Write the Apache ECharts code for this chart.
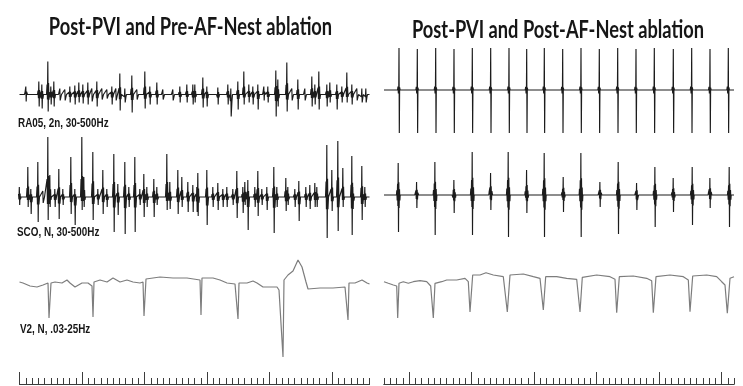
<!DOCTYPE html>
<html><head><meta charset="utf-8">
<script src="https://cdn.jsdelivr.net/npm/echarts@6/dist/echarts.min.js"></script>
<style>html,body{margin:0;padding:0;background:#fff}#c{width:743px;height:386px}</style>
</head><body><div id="c"></div>
<script>
// ---------- text ----------
const titleLeft = 'Post-PVI and Pre-AF-Nest ablation';
const titleRight = 'Post-PVI and Post-AF-Nest ablation';
const channelLabels = ['RA05, 2n, 30-500Hz', 'SCO, N, 30-500Hz', 'V2, N, .03-25Hz'];

// ---------- ruler (ms) ----------
const rulerMajorTicks = [0, 1000, 2000, 3000, 4000, 5000];

// ---------- RA05, pre-ablation (ms, deflection up / down) ----------
const ra05PreT = [0,104,312,360,456,504,552,648,728,808,888,952,1016,1096,1160,1240,1320,1400,1480,1544,1608,1688,1800,1880,2008,2088,2200,2296,2456,2568,2680,2776,2808,2936,3000,3176,3336,3384,3496,3592,3672,3736,3816,3912,3976,4104,4136,4280,4360,4456,4568,4680,4728,4792,4920,4968,5080,5160,5240,5320,5400,5480,5544];
const ra05PreUp = [2,8,13,10,33,8,13,6,5,8,9,12,10,12,6,13,6,5,8,6,21,6,19,5,23,8,12,5,5,8,10,10,10,17,8,7,10,6,13,23,10,8,10,8,8,24,15,32,6,15,6,18,10,23,10,12,10,8,22,10,6,6,6];
const ra05PreDn = [2,7,12,14,17,10,12,6,6,8,10,8,9,10,7,12,5,4,10,6,16,8,18,5,14,10,10,5,6,8,8,10,8,13,12,10,10,22,15,10,8,10,15,6,8,22,12,17,6,15,6,12,10,15,12,8,15,8,8,10,6,8,8];

// ---------- SCO, pre-ablation ----------
const scoPreT = [0,136,184,296,376,456,488,568,632,696,824,888,1000,1032,1176,1256,1336,1400,1512,1576,1688,1752,1848,1928,1992,2040,2152,2200,2360,2408,2536,2600,2696,2776,2840,2856,3000,3096,3176,3256,3320,3416,3480,3576,3608,3656,3768,3816,3880,3960,4072,4120,4264,4296,4408,4472,4584,4648,4728,4760,4920,5000,5096,5176,5320,5336,5480,5528];
const scoPreUp = [10,30,8,35,6,60,22,8,28,8,40,8,60,20,45,8,27,8,43,13,35,10,40,8,23,10,18,10,43,15,27,20,15,12,10,24,27,10,14,8,10,8,26,10,15,17,10,26,8,10,30,10,19,10,8,16,10,12,14,10,52,27,56,29,41,10,31,10];
const scoPreDn = [8,10,17,25,6,23,10,10,22,8,17,28,13,10,23,8,17,10,35,18,37,10,35,8,20,10,20,8,13,12,17,10,15,15,15,19,28,10,13,10,10,8,21,16,8,33,10,19,8,13,36,10,14,8,10,24,10,12,10,10,41,14,34,10,38,12,23,10];

// ---------- V2, pre-ablation (ms, amplitude) ----------
const v2PreT = [0,56,168,280,376,456,472,504,568,680,760,808,888,1000,1096,1160,1176,1192,1288,1400,1496,1608,1720,1816,1928,1976,1992,2024,2136,2248,2456,2680,2888,2904,2920,3096,3208,3320,3448,3480,3496,3512,3640,3736,3800,3896,4120,4152,4216,4232,4296,4376,4456,4520,4584,4616,4808,5016,5208,5240,5256,5272,5368,5480,5560,5600];
const v2PreV = [1,0,-3,-4,-2,0,-35,0,1,0,3,0,-4,0,0,-3,-34,1,3,1,5,1,3,1,0,1,-33,4,5,6,5,5,3,-32,5,5,3,0,-1,-3,-36,0,0,2,0,-4,-4,-7,-74,3,8,12,23,16,1,-6,-5,-5,-4,-2,-37,0,0,3,0,-1];

// ---------- RA05, post-ablation ----------
const ra05PostT = [-160,133,427,720,1013,1307,1600,1883,2165,2459,2752,3045,3339,3632,3925,4229,4523,4816,5109];
const ra05PostUp = [42,41,42,41,42,42,42,41,42,41,42,41,42,41,42,41,42,41,42];
const ra05PostDn = [43,43,43,43,43,43,43,43,43,43,43,43,43,43,43,43,43,43,43];

// ---------- SCO, post-ablation ----------
const scoPostT = [-171,123,416,720,1013,1307,1589,1883,2165,2469,2752,3056,3349,3643,3936,4229,4533,4816,5125];
const scoPostUp = [32,13,33,15,43,22,43,25,42,18,42,13,33,12,28,17,28,17,28];
const scoPostDn = [37,13,40,18,40,15,42,18,42,17,42,12,39,15,32,17,30,13,32];

// ---------- V2, post-ablation ----------
const v2PostT = [-400,-331,-251,-197,-181,-160,-91,-11,69,176,283,347,389,416,523,603,763,896,949,976,1019,1136,1232,1349,1509,1573,1616,1829,1989,2096,2149,2187,2363,2523,2683,2736,2773,3003,3216,3296,3323,3365,3589,3803,3883,3909,3952,4176,4389,4469,4496,4539,4763,4923,5003,5056,5093,5136,5200];
const v2PostV = [1.3,-0.3,-2,-3,-35,-0.3,1.3,-0.3,1.3,2.3,1.3,-3,-35,-0.3,1.3,3,3,4.7,1.3,-29,8,8,10.3,8,6.3,-29,8,9,6.3,4.7,-27,6.3,6.3,4.7,3.7,-29,5.7,8,6.3,3.7,-29.7,6.3,7,4.7,2.3,-29.7,6.3,8,6.3,3,-28.7,7,8,6.3,1.3,-2,-30.3,4.7,6.3];

// ---------- deflection shapes: [dt ms, up factor, down factor] ----------
const fracShape = [[-24,0,0],[-15,0.3,0],[-9,0,0.3],[-3,1,0],[3,0,1],[9,0.35,0],[15,0,0.3],[24,0,0]];
const sharpShape = [[-24,0,0],[-16,0.08,0],[-10,0,0.08],[-4,0,0],[0,1,0],[5,0,1],[10,0.06,0],[18,0,0]];
const burstShape = [[-30,0,0],[-24,0.15,0],[-18,0,0.15],[-12,0.35,0],[-7,0,0.3],[-2,1,0],[3,0,1],[8,0.4,0],[13,0,0.35],[19,0.18,0],[25,0,0.15],[30,0,0]];

function build(t, up, dn, shape, t0, t1) {
  const pts = [[t0, 0]];
  for (let i = 0; i < t.length; i++) {
    for (const s of shape) {
      const v = s[1] * up[i] - s[2] * dn[i];
      if (v !== 0 && Math.abs(v) < 2.3) continue; // sub-pixel wiggles are not drawn
      pts.push([t[i] + s[0], v]);
    }
  }
  pts.push([t1, 0]);
  return pts;
}
function pairs(t, v) { return t.map((x, i) => [x, v[i]]); }

const L = { left: 19.5, width: 350, min: 0, max: 5600 };
const R = { left: 384, width: 350, min: -400, max: 5200 };
const rows = [
  { base: 94.5, h: 50 }, { base: 90, h: 50 },
  { base: 197, h: 65 }, { base: 195, h: 65 },
  { base: 283, h: 80 }, { base: 283, h: 80 }
];
const grids = [], xAxes = [], yAxes = [];
rows.forEach((r, i) => {
  const s = i % 2 === 0 ? L : R;
  grids.push({ left: s.left, width: s.width, top: r.base - r.h, height: 2 * r.h });
  xAxes.push({ type: 'value', gridIndex: i, min: s.min, max: s.max, show: false });
  yAxes.push({ type: 'value', gridIndex: i, min: -r.h, max: r.h, show: false });
});
const tickColor = '#3c3c3c';
// minor ruler ticks every 100 ms
[L, R].forEach((s) => {
  const gi = grids.length;
  grids.push({ left: s.left, width: s.width, top: 360, height: 24 });
  yAxes.push({ type: 'value', gridIndex: gi, min: 0, max: 24, show: false });
  xAxes.push({ type: 'value', gridIndex: gi, min: s.min, max: s.max, interval: 100,
    axisLine: { show: true, onZero: false, lineStyle: { color: tickColor, width: 1 } },
    axisTick: { show: true, inside: true, length: 6, lineStyle: { color: tickColor, width: 1 } },
    axisLabel: { show: false }, splitLine: { show: false } });
});
// major ruler ticks every second, on their own grids
[L, R].forEach((s) => {
  const gi = grids.length;
  grids.push({ left: s.left, width: s.width, top: 348, height: 36 });
  yAxes.push({ type: 'value', gridIndex: gi, min: 0, max: 1, show: false });
  xAxes.push({ type: 'value', gridIndex: gi, min: s.min, max: s.max,
    axisLine: { show: true, onZero: false, lineStyle: { color: tickColor, width: 1 } },
    axisTick: { show: true, inside: true, length: 12, customValues: rulerMajorTicks, lineStyle: { color: tickColor, width: 1 } },
    axisLabel: { show: false }, splitLine: { show: false } });
});

const dark = { color: '#1c1c1c', width: 1.15, join: 'bevel' };
const gray = { color: '#7d7d7d', width: 1.2, join: 'bevel' };
function ser(i, data, ls) {
  return { type: 'line', xAxisIndex: i, yAxisIndex: i, data, showSymbol: false, symbol: 'none',
    lineStyle: ls, animation: false, silent: true };
}
const series = [
  ser(0, build(ra05PreT, ra05PreUp, ra05PreDn, fracShape, 0, 5600), dark),
  ser(1, build(ra05PostT, ra05PostUp, ra05PostDn, sharpShape, -400, 5200), dark),
  ser(2, build(scoPreT, scoPreUp, scoPreDn, fracShape, 0, 5600), dark),
  ser(3, build(scoPostT, scoPostUp, scoPostDn, burstShape, -400, 5200), dark),
  ser(4, pairs(v2PreT, v2PreV), gray),
  ser(5, pairs(v2PostT, v2PostV), gray)
];

function txt(x, y, text, font, sx, align) {
  return { type: 'text', x, y, scaleX: sx, silent: true,
    style: { text, x: 0, y: 0, font, fill: '#161616', align, verticalAlign: 'middle' } };
}
const titleFont = 'bold 25px Lato';
const labFont = 'bold 12.5px "Liberation Sans"';
const graphic = [
  txt(190.5, 27, titleLeft, titleFont, 0.73, 'center'),
  txt(558, 30, titleRight, titleFont, 0.73, 'center'),
  txt(18, 124, channelLabels[0], labFont, 0.79, 'left'),
  txt(17, 232.5, channelLabels[1], labFont, 0.79, 'left'),
  txt(20, 329.5, channelLabels[2], labFont, 0.79, 'left')
];

const chart = echarts.init(document.getElementById('c'), null, { renderer: 'canvas' });
chart.setOption({ animation: false, backgroundColor: '#fff', grid: grids, xAxis: xAxes, yAxis: yAxes, series, graphic });
</script></body></html>
